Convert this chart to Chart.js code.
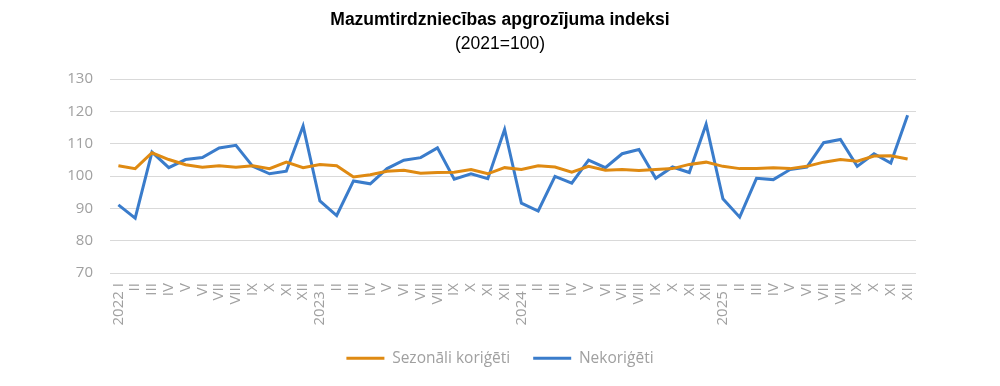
<!DOCTYPE html>
<html lang="lv">
<head>
    <meta charset="UTF-8">
    <title>Mazumtirdzniecības apgrozījuma indeksi</title>
    <script src="https://cdn.jsdelivr.net/npm/chart.js"></script>
    <style>
        body { margin: 0; background: #fff; }
        .wrap { width: 1000px; height: 386px; position: relative; }
    </style>
</head>
<body>
    <div class="wrap">
        <canvas id="retailChart"></canvas>
    </div>

    <script>
        // Months 2022 I .. 2025 XII
        const years = ['2022', '2023', '2024', '2025'];
        const months = ['I', 'II', 'III', 'IV', 'V', 'VI', 'VII', 'VIII', 'IX', 'X', 'XI', 'XII'];

        const seasonallyAdjusted = [
            103.2, 102.3, 107.2, 105.1, 103.5, 102.7, 103.2, 102.7, 103.2, 102.3, 104.3, 102.6,
            103.6, 103.2, 99.7, 100.4, 101.5, 101.8, 100.9, 101.1, 101.2, 102.0, 100.7, 102.6,
            102.0, 103.2, 102.8, 101.2, 103.0, 101.8, 102.0, 101.7, 102.0, 102.3, 103.6, 104.3,
            103.0, 102.3, 102.3, 102.6, 102.3, 103.0, 104.3, 105.1, 104.6, 106.2, 106.3, 105.3
        ];
        const unadjusted = [
            91.1, 87.0, 107.4, 102.6, 105.1, 105.7, 108.7, 109.5, 103.0, 100.7, 101.5, 115.5,
            92.3, 87.8, 98.5, 97.6, 102.3, 104.9, 105.7, 108.7, 99.0, 100.7, 99.2, 114.4,
            91.6, 89.2, 99.9, 97.8, 104.9, 102.6, 106.9, 108.2, 99.3, 102.8, 101.1, 116.0,
            93.0, 87.3, 99.3, 98.9, 102.0, 102.8, 110.3, 111.3, 103.0, 106.9, 104.0, 118.8
        ];

        const labels = [];
        years.forEach(y => months.forEach((m, i) => labels.push(i === 0 ? y + ' ' + m : m)));

        const ORANGE = '#df8a12';
        const BLUE = '#3a7ccb';
        const GREY = '#a0a0a0';

        Chart.defaults.font.family = '"Open Sans", "DejaVu Sans", sans-serif';

        const ctx = document.getElementById('retailChart').getContext('2d');
        new Chart(ctx, {
            type: 'line',
            data: {
                labels: labels,
                datasets: [{
                    label: 'Sezonāli koriģēti',
                    data: seasonallyAdjusted,
                    borderColor: ORANGE,
                    backgroundColor: ORANGE,
                    borderWidth: 3,
                    pointRadius: 0,
                    tension: 0
                }, {
                    label: 'Nekoriģēti',
                    data: unadjusted,
                    borderColor: BLUE,
                    backgroundColor: BLUE,
                    borderWidth: 3,
                    pointRadius: 0,
                    tension: 0
                }]
            },
            options: {
                responsive: true,
                maintainAspectRatio: false,
                animation: false,
                layout: { padding: { left: 0, right: 0, top: 0, bottom: 10 } },
                scales: {
                    x: {
                        offset: true,
                        grid: { display: false },
                        border: { display: false },
                        ticks: {
                            color: GREY,
                            font: { size: 15 },
                            autoSkip: false,
                            minRotation: 90,
                            maxRotation: 90,
                            padding: 2
                        }
                    },
                    y: {
                        min: 70,
                        max: 130,
                        afterFit: scale => { scale.width = 110; },
                        grid: { color: '#d9d9d9', drawTicks: false },
                        border: { display: false },
                        ticks: {
                            stepSize: 10,
                            color: GREY,
                            font: { size: 15 },
                            padding: 17
                        }
                    },
                    // empty right-hand spacer so the plot ends where the reference does
                    spacer: {
                        position: 'right',
                        afterFit: scale => { scale.width = 84; },
                        grid: { display: false },
                        border: { display: false },
                        ticks: { display: false }
                    }
                },
                plugins: {
                    title: {
                        display: true,
                        text: 'Mazumtirdzniecības apgrozījuma indeksi',
                        color: '#000',
                        font: { family: '"Liberation Sans", Arial, sans-serif', size: 17.5, weight: 'bold' },
                        padding: { top: 10, bottom: 3 }
                    },
                    subtitle: {
                        display: true,
                        text: '(2021=100)',
                        color: '#000',
                        font: { family: '"Liberation Sans", Arial, sans-serif', size: 17.5 },
                        padding: { bottom: 24 }
                    },
                    legend: {
                        position: 'bottom',
                        labels: {
                            color: GREY,
                            font: { size: 15.5 },
                            usePointStyle: true,
                            pointStyle: 'line',
                            pointStyleWidth: 38,
                            padding: 23
                        }
                    },
                    tooltip: { enabled: false }
                }
            }
        });
    </script>
</body>
</html>
